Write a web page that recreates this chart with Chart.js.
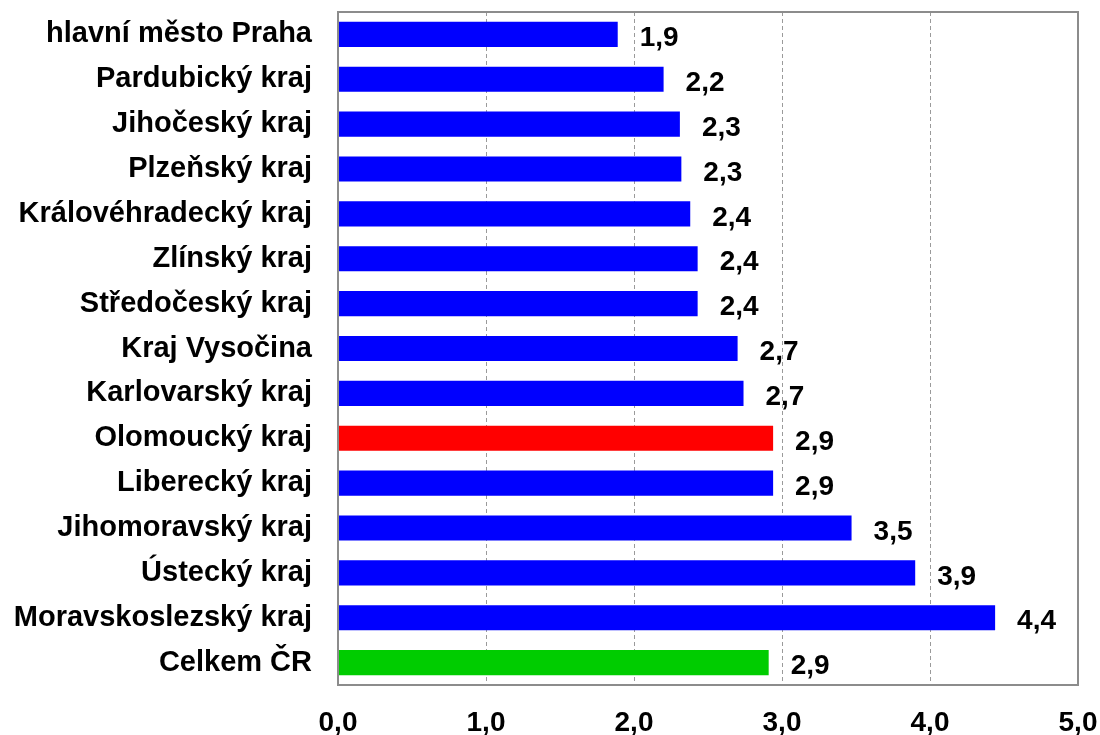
<!DOCTYPE html>
<html>
	<head>
		<meta charset="utf-8">
		<title>Kraje</title>
		<script src="https://cdn.jsdelivr.net/npm/chart.js"></script>
		<style>
			html, body {
				margin: 0;
				padding: 0;
				background: #ffffff;
			}

			#box {
				width: 1100px;
				height: 735px;
			}
		</style>
	</head>
	<body>
		<div id="box">
			<canvas id="chart" width="1100" height="735"></canvas>
		</div>
		<script>
			const labels = ['hlavní město Praha', 'Pardubický kraj', 'Jihočeský kraj', 'Plzeňský kraj', 'Královéhradecký kraj', 'Zlínský kraj', 'Středočeský kraj', 'Kraj Vysočina', 'Karlovarský kraj', 'Olomoucký kraj', 'Liberecký kraj', 'Jihomoravský kraj', 'Ústecký kraj', 'Moravskoslezský kraj', 'Celkem ČR'];
			const values = [1.89, 2.2, 2.31, 2.32, 2.38, 2.43, 2.43, 2.7, 2.74, 2.94, 2.94, 3.47, 3.9, 4.44, 2.91];
			const shown = ['1,9', '2,2', '2,3', '2,3', '2,4', '2,4', '2,4', '2,7', '2,7', '2,9', '2,9', '3,5', '3,9', '4,4', '2,9'];
			const xTicks = [0, 1, 2, 3, 4, 5];

			const barColors = labels.map((l) => {
				if (l === 'Olomoucký kraj') return '#ff0000';
				if (l === 'Celkem ČR') return '#00cc00';
				return '#0000ff';
			});

			const font = "'Liberation Sans', Arial, sans-serif";

			// hodnoty za koncem sloupce
			const valueLabels = {
				id: 'valueLabels',
				afterDatasetsDraw(chart) {
					const ctx = chart.ctx;
					const meta = chart.getDatasetMeta(0);
					ctx.save();
					ctx.font = 'bold 28px ' + font;
					ctx.fillStyle = '#000000';
					ctx.textAlign = 'left';
					ctx.textBaseline = 'middle';
					meta.data.forEach((bar, i) => {
						ctx.fillText(shown[i], bar.x + 22, bar.y + 4);
					});
					ctx.restore();
				}
			};

			// rámeček kolem plochy grafu
			const frame = {
				id: 'frame',
				afterDraw(chart) {
					const a = chart.chartArea;
					const ctx = chart.ctx;
					ctx.save();
					ctx.strokeStyle = '#8c8c8c';
					ctx.lineWidth = 2;
					ctx.strokeRect(a.left, a.top, a.right - a.left, a.bottom - a.top);
					ctx.restore();
				}
			};

			function noPad(scale) {
				scale.paddingLeft = 0;
				scale.paddingRight = 0;
				scale.paddingTop = 0;
				scale.paddingBottom = 0;
			}

			const ctx = document.getElementById('chart').getContext('2d');
			new Chart(ctx, {
				type: 'bar',
				data: {
					labels: labels,
					datasets: [{
						data: values,
						backgroundColor: barColors,
						borderWidth: 0,
						categoryPercentage: 1,
						barPercentage: 0.56
					}]
				},
				options: {
					indexAxis: 'y',
					responsive: false,
					animation: false,
					layout: {
						padding: { top: 12, right: 22, left: 0, bottom: 0 }
					},
					plugins: {
						legend: { display: false },
						tooltip: { enabled: false }
					},
					scales: {
						x: {
							min: 0,
							max: 5,
							afterBuildTicks: (scale) => {
								scale.ticks = xTicks.map((v) => ({ value: v }));
							},
							afterFit: (scale) => {
								scale.height = 50;
								noPad(scale);
							},
							border: { display: false, dash: [4, 3] },
							grid: {
								drawTicks: false,
								color: (c) => (c.tick && (c.tick.value === 0 || c.tick.value === 5)) ? 'rgba(0,0,0,0)' : '#9a9a9a',
								lineWidth: 1
							},
							ticks: {
								padding: 21,
								color: '#000000',
								font: { family: font, size: 28, weight: 'bold' },
								callback: (v) => Number(v).toFixed(1).replace('.', ',')
							}
						},
						y: {
							afterFit: (scale) => {
								scale.width = 338;
								noPad(scale);
							},
							border: { display: false },
							grid: { display: false, drawTicks: false },
							ticks: {
								padding: 26,
								color: '#000000',
								font: { family: font, size: 29, weight: 'bold' }
							}
						}
					}
				},
				plugins: [valueLabels, frame]
			});
		</script>
	</body>
</html>
